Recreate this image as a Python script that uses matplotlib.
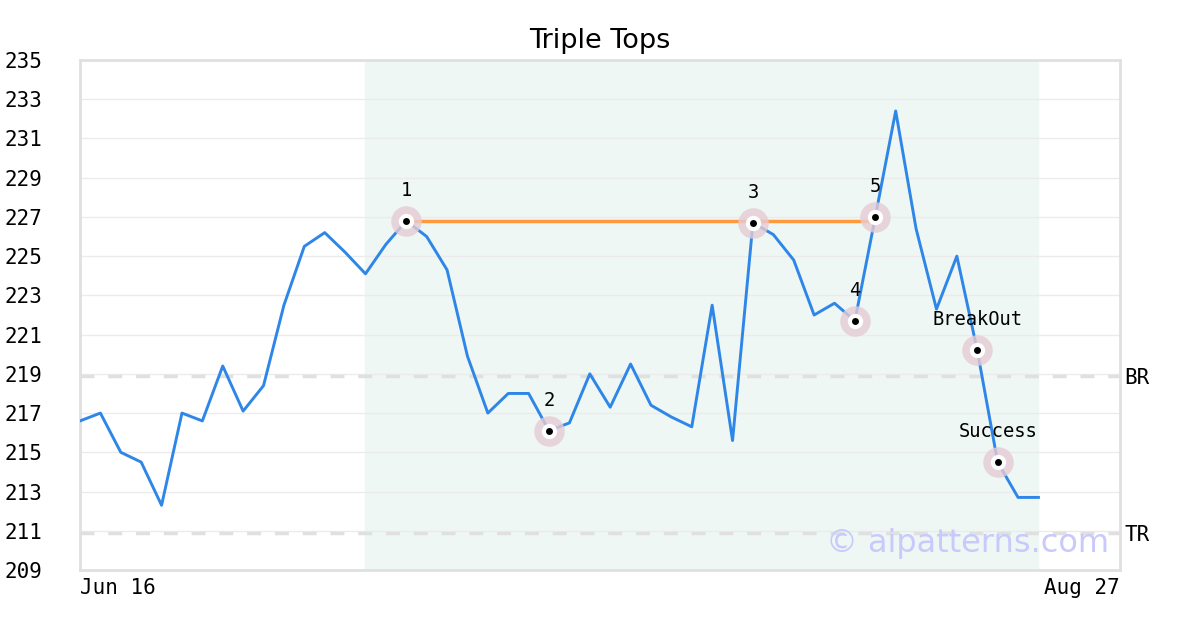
import numpy as np
import matplotlib.pyplot as plt

# === Data ===
prices = [216.6, 217.0, 215.0, 214.5, 212.3, 217.0, 216.6, 219.4, 217.1, 218.4,
          222.5, 225.5, 226.2, 225.2, 224.1, 225.6, 226.8, 226.0, 224.3, 219.9,
          217.0, 218.0, 218.0, 216.1, 216.5, 219.0, 217.3, 219.5, 217.4, 216.8,
          216.3, 222.5, 215.6, 226.7, 226.1, 224.8, 222.0, 222.6, 221.7, 227.0,
          232.4, 226.4, 222.3, 225.0, 220.2, 214.5, 212.7, 212.7]
point_idx = [16, 23, 33, 38, 39, 44, 45]
point_labels = ["1", "2", "3", "4", "5", "BreakOut", "Success"]
top_line_idx = [16, 39]
top_line_level = 226.8
shade_span = [14, 47]
br_level = 218.9
tr_level = 210.9
x_labels = ["Jun 16", "Aug 27"]
y_ticks = list(range(209, 236, 2))

mono = "DejaVu Sans Mono"
x = np.arange(len(prices))

fig = plt.figure(figsize=(12, 6.3), dpi=100)
ax = fig.add_axes([80 / 1200, 60 / 630, 1040 / 1200, 510 / 630])

ax.set_xlim(0, 51)
ax.set_ylim(209, 235)

# shaded pattern region
ax.axvspan(shade_span[0], shade_span[1], color="#eef7f4", zorder=0)

# grid
ax.set_yticks(y_ticks)
ax.yaxis.grid(True, color="#ebebeb", linewidth=1, zorder=1)
ax.set_axisbelow(True)

# support / resistance
for lvl in (br_level, tr_level):
    ax.axhline(lvl, color="#e0e0e0", linewidth=2.5, linestyle=(0, (4, 4)), zorder=2)
ax.text(1.004, br_level - 0.1, "BR", transform=ax.get_yaxis_transform(), family=mono,
        fontsize=15, va="center", ha="left")
ax.text(1.004, tr_level - 0.1, "TR", transform=ax.get_yaxis_transform(), family=mono,
        fontsize=15, va="center", ha="left")

# price line
ax.plot(x, prices, color="#2e86e8", linewidth=2.1, zorder=3)

# triple top line
ax.plot(top_line_idx, [top_line_level, top_line_level], color="#ff9a3c",
        linewidth=2.5, zorder=3)

# marked points
for i, lab in zip(point_idx, point_labels):
    ax.plot(x[i], prices[i], "o", ms=22, color="#e6ccd5", alpha=0.8, mec="none", zorder=4)
    ax.plot(x[i], prices[i], "o", ms=11, color="white", mec="none", zorder=5)
    ax.plot(x[i], prices[i], "o", ms=5, color="black", mec="none", zorder=6)
    ax.annotate(lab, (x[i], prices[i]), xytext=(0, 15), textcoords="offset points",
                ha="center", va="bottom", family=mono, fontsize=13.5, zorder=7)

# watermark
ax.text(0.99, 0.052, "\u00a9 aipatterns.com", transform=ax.transAxes, fontsize=23,
        color="#c9c9fb", ha="right", va="center", zorder=8)

# axes styling
ax.set_xticks([0, 51])
ax.set_xticklabels(x_labels, family=mono, fontsize=15)
ax.get_xticklabels()[0].set_ha("left")
ax.get_xticklabels()[1].set_ha("right")
ax.set_yticklabels([str(v) for v in y_ticks], family=mono, fontsize=15)
ax.tick_params(axis="both", length=0)
ax.tick_params(axis="y", pad=27)
ax.tick_params(axis="x", pad=6)
for s in ax.spines.values():
    s.set_color("#e0e0e0")
    s.set_linewidth(2)

ax.set_title("Triple Tops", fontsize=19.5, pad=9)

fig.savefig("out.png", dpi=100)
